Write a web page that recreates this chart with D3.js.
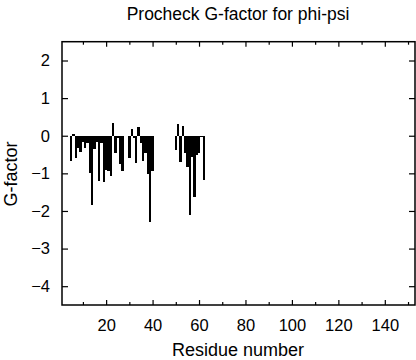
<!DOCTYPE html>
<html><head><meta charset="utf-8">
<script src="https://cdn.jsdelivr.net/npm/d3@7/dist/d3.min.js"></script>
<style>body{margin:0;background:#fff}svg{display:block}text{font-family:"Liberation Sans",Arial,Helvetica,sans-serif;fill:#000}</style>
</head><body><svg id="c" width="416" height="360"></svg>
<script>
const residues = [5,6,7,8,9,10,11,12,13,14,15,16,17,18,19,20,21,22,23,24,25,26,27,30,31,32,33,34,35,36,37,38,39,40,50,51,52,53,54,55,56,57,58,59,60,61,62];
const gfactor  = [-0.68,0.04,-0.58,-0.33,-0.42,-0.16,-0.32,-0.2,-1.0,-1.84,-0.36,-0.16,-1.2,-0.19,-1.24,-0.91,-0.94,-1.06,0.34,-0.47,-0.05,-0.76,-0.93,-0.58,0.19,-0.05,-0.73,0.23,-0.19,-0.67,-0.47,-1.02,-2.3,-0.93,-0.38,0.3,-0.7,0.25,-0.47,-0.82,-2.1,-0.57,-1.62,-0.5,-0.45,-0.03,-1.17];
const xMajor = [20,40,60,80,100,120,140];
const xMinor = [10,30,50,70,90,110,130,150];
const yTicks = [2,1,0,-1,-2,-3,-4];

const svg = d3.select("#c");
const L=62,R=415,T=41.7,B=305;
const x = d3.scaleLinear().domain([1,153]).range([L,R]);
const y = d3.scaleLinear().domain([-4.5,2.5]).range([B,T]);

svg.append("g").selectAll("rect").data(residues).join("rect")
  .attr("x",(d)=>Math.round(x(d-0.5)))
  .attr("width",(d)=>Math.max(2,Math.round(x(d+0.5))-Math.round(x(d-0.5))))
  .attr("y",(d,i)=>y(Math.max(0,gfactor[i])))
  .attr("height",(d,i)=>Math.max(1.2,Math.abs(y(gfactor[i])-y(0))))
  .attr("fill","#000").attr("shape-rendering","crispEdges");

// axes
const bottom = d3.axisBottom(x).tickValues(xMajor).tickSize(-5).tickPadding(14).tickFormat(d3.format("d"));
const gb = svg.append("g").attr("transform",`translate(0,${B})`).call(bottom);
gb.select(".domain").remove();
gb.selectAll("text").attr("font-size",16.5).attr("dy","0.71em");
svg.append("g").attr("transform",`translate(0,${B})`).call(d3.axisBottom(x).tickValues(xMinor).tickSize(-3).tickFormat("")).select(".domain").remove();
const gt=svg.append("g").attr("transform",`translate(0,${T})`).call(d3.axisTop(x).tickValues(xMajor).tickSize(-5).tickFormat(""));
gt.select(".domain").remove();
svg.append("g").attr("transform",`translate(0,${T})`).call(d3.axisTop(x).tickValues(xMinor).tickSize(-3).tickFormat("")).select(".domain").remove();

const gl = svg.append("g").attr("transform",`translate(${L},0)`).call(d3.axisLeft(y).tickValues(yTicks).tickSize(-6).tickPadding(12).tickFormat(d3.format("d")));
gl.select(".domain").remove();
gl.selectAll("text").attr("font-size",16.5);
const gr = svg.append("g").attr("transform",`translate(${R},0)`).call(d3.axisRight(y).tickValues(yTicks).tickSize(-6).tickFormat(""));
gr.select(".domain").remove();
svg.selectAll(".tick line").attr("stroke","#000").attr("stroke-width",1.2);

svg.append("rect").attr("x",L).attr("y",T).attr("width",R-L).attr("height",B-T)
  .attr("fill","none").attr("stroke","#000").attr("stroke-width",1.5);

svg.append("text").attr("x",238).attr("y",19.5).attr("text-anchor","middle").attr("font-size",17.5).text("Procheck G-factor for phi-psi");
svg.append("text").attr("x",238).attr("y",356).attr("text-anchor","middle").attr("font-size",18).text("Residue number");
svg.append("text").attr("transform","translate(17,174) rotate(-90)").attr("text-anchor","middle").attr("font-size",18).text("G-factor");
</script></body></html>
